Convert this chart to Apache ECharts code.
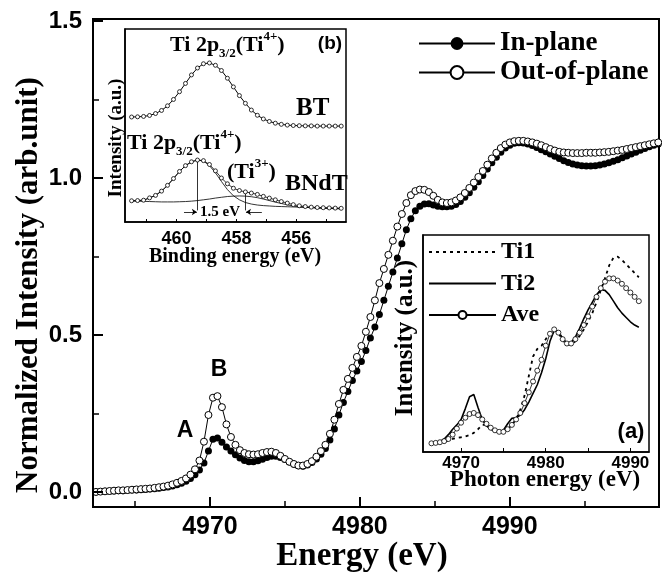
<!DOCTYPE html>
<html>
<head>
<meta charset="utf-8">
<script src="https://cdn.jsdelivr.net/npm/echarts@6/dist/echarts.min.js"></script>
<style>html,body{margin:0;padding:0;background:#fff}#chart{width:662px;height:577px}</style>
</head>
<body>
<div id="chart"></div>
<script>
var SERIF = '"Liberation Serif", "Times New Roman", serif';
var SANS = '"Liberation Sans", Arial, sans-serif';
var TICK_COLOR = '#000';

// main XANES spectra
var energy = [4962.4, 4962.7, 4963.0, 4963.3, 4963.6, 4963.9, 4964.2, 4964.5, 4964.8, 4965.1, 4965.4, 4965.7, 4966.0, 4966.3, 4966.6, 4966.9, 4967.2, 4967.5, 4967.8, 4968.1, 4968.4, 4968.7, 4969.0, 4969.3, 4969.6, 4969.9, 4970.2, 4970.5, 4970.8, 4971.1, 4971.4, 4971.7, 4972.0, 4972.3, 4972.6, 4972.9, 4973.2, 4973.5, 4973.8, 4974.1, 4974.4, 4974.7, 4975.0, 4975.3, 4975.6, 4975.9, 4976.2, 4976.5, 4976.8, 4977.1, 4977.4, 4977.7, 4978.0, 4978.3, 4978.6, 4978.9, 4979.2, 4979.5, 4979.8, 4980.1, 4980.4, 4980.7, 4981.0, 4981.3, 4981.6, 4981.9, 4982.2, 4982.5, 4982.8, 4983.1, 4983.4, 4983.7, 4984.0, 4984.3, 4984.6, 4984.9, 4985.2, 4985.5, 4985.8, 4986.1, 4986.4, 4986.7, 4987.0, 4987.3, 4987.6, 4987.9, 4988.2, 4988.5, 4988.8, 4989.1, 4989.4, 4989.7, 4990.0, 4990.3, 4990.6, 4990.9, 4991.2, 4991.5, 4991.8, 4992.1, 4992.4, 4992.7, 4993.0, 4993.3, 4993.6, 4993.9, 4994.2, 4994.5, 4994.8, 4995.1, 4995.4, 4995.7, 4996.0, 4996.3, 4996.6, 4996.9, 4997.2, 4997.5, 4997.8, 4998.1, 4998.4, 4998.7, 4999.0, 4999.3, 4999.6, 4999.9];
var inPlane = [0.000, 0.001, 0.002, 0.002, 0.003, 0.004, 0.004, 0.005, 0.006, 0.006, 0.007, 0.008, 0.009, 0.010, 0.012, 0.014, 0.016, 0.019, 0.023, 0.028, 0.034, 0.043, 0.055, 0.070, 0.092, 0.130, 0.168, 0.172, 0.158, 0.143, 0.130, 0.118, 0.108, 0.100, 0.096, 0.096, 0.099, 0.104, 0.110, 0.114, 0.114, 0.110, 0.103, 0.095, 0.088, 0.083, 0.082, 0.086, 0.094, 0.105, 0.120, 0.138, 0.165, 0.200, 0.245, 0.285, 0.320, 0.355, 0.385, 0.415, 0.450, 0.490, 0.525, 0.565, 0.610, 0.655, 0.700, 0.745, 0.790, 0.835, 0.870, 0.895, 0.910, 0.917, 0.918, 0.914, 0.910, 0.908, 0.908, 0.910, 0.915, 0.925, 0.938, 0.953, 0.970, 0.988, 1.008, 1.028, 1.048, 1.066, 1.082, 1.095, 1.104, 1.110, 1.112, 1.111, 1.108, 1.103, 1.097, 1.090, 1.083, 1.076, 1.069, 1.062, 1.055, 1.049, 1.044, 1.041, 1.039, 1.038, 1.038, 1.039, 1.041, 1.044, 1.048, 1.053, 1.058, 1.064, 1.070, 1.076, 1.082, 1.088, 1.094, 1.099, 1.104, 1.108];
var outPlane = [0.000, 0.001, 0.002, 0.003, 0.004, 0.005, 0.005, 0.006, 0.007, 0.008, 0.009, 0.010, 0.011, 0.013, 0.015, 0.017, 0.020, 0.024, 0.029, 0.035, 0.043, 0.055, 0.072, 0.100, 0.160, 0.245, 0.300, 0.305, 0.270, 0.215, 0.175, 0.150, 0.133, 0.124, 0.120, 0.119, 0.120, 0.124, 0.127, 0.128, 0.124, 0.115, 0.105, 0.096, 0.089, 0.084, 0.084, 0.089, 0.098, 0.112, 0.130, 0.150, 0.185, 0.230, 0.280, 0.325, 0.360, 0.395, 0.430, 0.465, 0.510, 0.557, 0.610, 0.665, 0.710, 0.755, 0.800, 0.845, 0.885, 0.920, 0.945, 0.958, 0.963, 0.962, 0.955, 0.943, 0.930, 0.922, 0.920, 0.922, 0.928, 0.938, 0.952, 0.968, 0.985, 1.003, 1.022, 1.042, 1.062, 1.080, 1.095, 1.106, 1.113, 1.117, 1.118, 1.118, 1.116, 1.113, 1.109, 1.104, 1.098, 1.092, 1.087, 1.083, 1.081, 1.080, 1.079, 1.079, 1.079, 1.080, 1.080, 1.080, 1.081, 1.082, 1.083, 1.085, 1.087, 1.089, 1.092, 1.095, 1.098, 1.101, 1.104, 1.107, 1.110, 1.113];
var mainXRange = [4962.2, 4999.95];
var mainYRange = [-0.048, 1.506];
var mainXMajor = [4970, 4980, 4990];
var mainXMinor = [4965, 4975, 4985, 4995];
var mainYMajor = [0, 0.5, 1.0, 1.5];
var mainYMinor = [0.25, 0.75, 1.25];

// inset (b): XPS Ti 2p3/2
var bindEnergy = [461.5, 461.3, 461.1, 460.9, 460.7, 460.5, 460.3, 460.1, 459.9, 459.7, 459.5, 459.3, 459.1, 458.9, 458.7, 458.5, 458.3, 458.1, 457.9, 457.7, 457.5, 457.3, 457.1, 456.9, 456.7, 456.5, 456.3, 456.1, 455.9, 455.7, 455.5, 455.3, 455.1, 454.9, 454.7, 454.5];
var btData = [0.544, 0.545, 0.547, 0.552, 0.562, 0.578, 0.602, 0.635, 0.675, 0.718, 0.762, 0.798, 0.820, 0.824, 0.812, 0.785, 0.745, 0.700, 0.655, 0.615, 0.580, 0.553, 0.534, 0.521, 0.512, 0.506, 0.502, 0.500, 0.499, 0.498, 0.498, 0.497, 0.497, 0.497, 0.497, 0.497];
var bndtData = [0.110, 0.111, 0.113, 0.125, 0.138, 0.160, 0.190, 0.225, 0.262, 0.292, 0.312, 0.321, 0.318, 0.298, 0.265, 0.228, 0.198, 0.175, 0.163, 0.156, 0.150, 0.143, 0.133, 0.124, 0.115, 0.106, 0.098, 0.090, 0.084, 0.080, 0.077, 0.075, 0.074, 0.073, 0.072, 0.071];
var bndtTi4 = [0.110, 0.111, 0.113, 0.125, 0.138, 0.160, 0.190, 0.225, 0.262, 0.292, 0.312, 0.321, 0.316, 0.292, 0.255, 0.210, 0.168, 0.136, 0.115, 0.101, 0.093, 0.088, 0.085, 0.083, 0.081, 0.080, 0.079, 0.078, 0.077, 0.076, 0.075, 0.074, 0.073, 0.072, 0.071, 0.070];
var bndtTi3 = [0.109, 0.108, 0.107, 0.106, 0.105, 0.104, 0.104, 0.104, 0.105, 0.106, 0.108, 0.111, 0.115, 0.119, 0.124, 0.128, 0.132, 0.134, 0.135, 0.134, 0.131, 0.126, 0.119, 0.111, 0.103, 0.096, 0.089, 0.083, 0.079, 0.076, 0.074, 0.072, 0.071, 0.070, 0.069, 0.068];
var bPeaks = [459.3, 457.7];
var bPeakTops = [0.321, 0.150];
var bXRange = [454.34, 461.72];
var bXLabels = [456, 458, 460];
var bXTicks = [455, 456, 457, 458, 459, 460, 461];

// inset (a): calculated spectra
var photonEnergy = [4966.5, 4967.0, 4967.5, 4968.0, 4968.5, 4969.0, 4969.5, 4970.0, 4970.5, 4971.0, 4971.5, 4972.0, 4972.5, 4973.0, 4973.5, 4974.0, 4974.5, 4975.0, 4975.5, 4976.0, 4976.5, 4977.0, 4977.5, 4978.0, 4978.5, 4979.0, 4979.5, 4980.0, 4980.5, 4981.0, 4981.5, 4982.0, 4982.5, 4983.0, 4983.5, 4984.0, 4984.5, 4985.0, 4985.5, 4986.0, 4986.5, 4987.0, 4987.5, 4988.0, 4988.5, 4989.0, 4989.5, 4990.0, 4990.5, 4991.0];
var ti1 = [0.040, 0.042, 0.044, 0.048, 0.053, 0.060, 0.065, 0.068, 0.072, 0.078, 0.088, 0.105, 0.125, 0.125, 0.115, 0.102, 0.095, 0.095, 0.105, 0.125, 0.150, 0.195, 0.260, 0.350, 0.440, 0.475, 0.490, 0.520, 0.550, 0.565, 0.550, 0.515, 0.495, 0.495, 0.510, 0.535, 0.565, 0.600, 0.640, 0.690, 0.745, 0.800, 0.860, 0.895, 0.900, 0.885, 0.865, 0.845, 0.825, 0.805];
var ti2 = [0.040, 0.042, 0.048, 0.060, 0.080, 0.105, 0.125, 0.150, 0.200, 0.255, 0.265, 0.205, 0.150, 0.120, 0.105, 0.096, 0.092, 0.100, 0.130, 0.155, 0.158, 0.170, 0.195, 0.230, 0.270, 0.310, 0.365, 0.430, 0.510, 0.560, 0.555, 0.525, 0.500, 0.505, 0.530, 0.570, 0.615, 0.655, 0.690, 0.725, 0.748, 0.745, 0.725, 0.695, 0.665, 0.640, 0.620, 0.600, 0.585, 0.575];
var ave = [0.040, 0.042, 0.045, 0.050, 0.060, 0.080, 0.108, 0.135, 0.158, 0.175, 0.180, 0.170, 0.150, 0.130, 0.112, 0.100, 0.093, 0.093, 0.105, 0.125, 0.150, 0.180, 0.225, 0.275, 0.325, 0.375, 0.425, 0.490, 0.545, 0.565, 0.550, 0.520, 0.500, 0.500, 0.520, 0.550, 0.585, 0.625, 0.670, 0.715, 0.755, 0.785, 0.800, 0.800, 0.790, 0.775, 0.755, 0.735, 0.715, 0.695];
var aXRange = [4965.5, 4992.2];
var aXLabels = [4970, 4980, 4990];
var aXTicks = [4970, 4975, 4980, 4985, 4990];

// pixel boxes of the three plot areas
var boxMain = {left: 93, top: 19, width: 566, height: 488};
var boxB = {left: 125, top: 29, width: 221, height: 193};
var boxA = {left: 423, top: 235, width: 226, height: 217};

function pairs(xs, ys) {
    return xs.map(function (x, i) { return [x, ys[i]]; });
}

// inward tick marks drawn as short markLine segments (length in px)
function xTicks(values, box, xr, yr, len, width) {
    var dy = len * (yr[1] - yr[0]) / box.height;
    return values.map(function (v) {
        return [{coord: [v, yr[0]], lineStyle: {width: width}}, {coord: [v, yr[0] + dy]}];
    });
}
function yTicks(values, box, xr, yr, len, width) {
    var dx = len * (xr[1] - xr[0]) / box.width;
    return values.map(function (v) {
        return [{coord: [xr[0], v], lineStyle: {width: width}}, {coord: [xr[0] + dx, v]}];
    });
}
function tickLines(data) {
    return {silent: true, symbol: 'none', precision: 6, lineStyle: {color: TICK_COLOR, type: 'solid'}, data: data};
}

function axis(grid, range, labels, size, margin, extra) {
    var ax = {
        type: 'value', gridIndex: grid, min: range[0], max: range[1], z: 10,
        axisLine: {show: true, onZero: false, lineStyle: {color: '#000', width: grid === 0 ? 2 : 1.5}},
        axisTick: {show: false},
        axisLabel: labels ? {customValues: labels, color: '#000', fontFamily: SANS, fontWeight: 'bold', fontSize: size, margin: margin,
            formatter: function (v) { return grid === 0 && range[1] < 10 ? v.toFixed(1) : String(v); }} : {show: false},
        splitLine: {show: false}
    };
    for (var k in (extra || {})) ax[k] = extra[k];
    return ax;
}

function txt(x, y, text, font, opts) {
    var el = {type: 'text', x: x, y: y, z: 100, style: {text: text, font: font, fill: '#000', align: 'center', verticalAlign: 'middle'}};
    for (var k in (opts || {})) {
        if (k === 'rotation') el.rotation = opts[k]; else el.style[k] = opts[k];
    }
    return el;
}

var richTi = {
    s: {fontFamily: SERIF, fontWeight: 'bold', fontSize: 13, verticalAlign: 'bottom', lineHeight: 30},
    p: {fontFamily: SERIF, fontWeight: 'bold', fontSize: 13, verticalAlign: 'top', lineHeight: 30}
};

var chart = echarts.init(document.getElementById('chart'), null, {renderer: 'canvas'});

var mainTicks = xTicks(mainXMajor, boxMain, mainXRange, mainYRange, 10, 2)
    .concat(xTicks(mainXMinor, boxMain, mainXRange, mainYRange, 6, 1.5))
    .concat(yTicks(mainYMajor, boxMain, mainXRange, mainYRange, 10, 2))
    .concat(yTicks(mainYMinor, boxMain, mainXRange, mainYRange, 6, 1.5));
var bTicks = xTicks(bXTicks, boxB, bXRange, [0, 1], 3, 1);
var aTicks = xTicks(aXTicks, boxA, aXRange, [0, 1], 4, 1);

var option = {
    animation: false,
    backgroundColor: '#fff',
    grid: [
        {left: boxMain.left, top: boxMain.top, width: boxMain.width, height: boxMain.height, outerBoundsMode: 'none', containLabel: false,
            show: true, borderColor: '#000', borderWidth: 2, backgroundColor: 'transparent'},
        {left: boxB.left, top: boxB.top, width: boxB.width, height: boxB.height, outerBoundsMode: 'none', containLabel: false,
            show: true, borderColor: '#000', borderWidth: 1.5, backgroundColor: '#fff', z: 5},
        {left: boxA.left, top: boxA.top, width: boxA.width, height: boxA.height, outerBoundsMode: 'none', containLabel: false,
            show: true, borderColor: '#000', borderWidth: 1.5, backgroundColor: '#fff', z: 5}
    ],
    xAxis: [
        axis(0, mainXRange, mainXMajor, 25, 8),
        axis(1, bXRange, bXLabels, 18, 8, {inverse: true}),
        axis(2, aXRange, aXLabels, 17, 3)
    ],
    yAxis: [
        axis(0, mainYRange, mainYMajor, 24, 11),
        axis(1, [0, 1], null),
        axis(2, [0, 1], null)
    ],
    legend: [
        {
            data: ['In-plane', 'Out-of-plane'], left: 418, top: 29, orient: 'vertical', padding: 0, z: 20,
            itemWidth: 76, itemHeight: 16, itemGap: 0, selectedMode: false,
            textStyle: {fontFamily: SERIF, fontWeight: 'bold', fontSize: 27, color: '#000', lineHeight: 29}
        },
        {
            data: ['Ti1', 'Ti2', 'Ave'], left: 428, top: 239, orient: 'vertical', padding: 0, z: 20,
            itemWidth: 67, itemHeight: 10, itemGap: 5.5, selectedMode: false,
            textStyle: {fontFamily: SERIF, fontWeight: 'bold', fontSize: 24, color: '#000', lineHeight: 26}
        }
    ],
    series: [
        {
            name: 'In-plane', type: 'line', xAxisIndex: 0, yAxisIndex: 0, data: pairs(energy, inPlane),
            symbol: 'circle', symbolSize: 7, showAllSymbol: true,
            itemStyle: {color: '#000'}, lineStyle: {color: '#000', width: 1},
            markLine: tickLines(mainTicks)
        },
        {
            name: 'Out-of-plane', type: 'line', xAxisIndex: 0, yAxisIndex: 0, data: pairs(energy, outPlane),
            symbol: 'circle', symbolSize: 7, showAllSymbol: true,
            itemStyle: {color: '#fff', borderColor: '#000', borderWidth: 1}, lineStyle: {color: '#000', width: 1}
        },
        {
            name: 'BT', type: 'line', xAxisIndex: 1, yAxisIndex: 1, data: pairs(bindEnergy, btData), z: 6,
            symbol: 'circle', symbolSize: 4, showAllSymbol: true,
            itemStyle: {color: '#fff', borderColor: '#000', borderWidth: 0.8}, lineStyle: {color: '#000', width: 1},
            markLine: tickLines(bTicks)
        },
        {
            name: 'Ti4+ component', type: 'line', xAxisIndex: 1, yAxisIndex: 1, data: pairs(bindEnergy, bndtTi4), z: 6,
            symbol: 'none', lineStyle: {color: '#000', width: 0.8}, itemStyle: {color: '#000'},
            markLine: {
                silent: true, symbol: 'none', precision: 6, label: {show: false}, lineStyle: {color: '#000', width: 0.8, type: 'solid'},
                data: bPeaks.map(function (e, i) { return [{coord: [e, 0.06]}, {coord: [e, bPeakTops[i]]}]; })
            }
        },
        {
            name: 'Ti3+ component', type: 'line', xAxisIndex: 1, yAxisIndex: 1, data: pairs(bindEnergy, bndtTi3), z: 6,
            symbol: 'none', lineStyle: {color: '#000', width: 0.8}, itemStyle: {color: '#000'},
            markLine: {
                silent: true, symbol: ['none', 'arrow'], symbolSize: 5, precision: 6, label: {show: false}, lineStyle: {color: '#000', width: 0.8, type: 'solid'},
                data: [
                    [{coord: [bPeaks[0] + 0.45, 0.052]}, {coord: [bPeaks[0] + 0.02, 0.052]}],
                    [{coord: [bPeaks[1] - 0.55, 0.052]}, {coord: [bPeaks[1] - 0.02, 0.052]}]
                ]
            }
        },
        {
            name: 'BNdT', type: 'line', xAxisIndex: 1, yAxisIndex: 1, data: pairs(bindEnergy, bndtData), z: 7,
            symbol: 'circle', symbolSize: 4, showAllSymbol: true,
            itemStyle: {color: '#fff', borderColor: '#000', borderWidth: 0.8}, lineStyle: {color: '#000', width: 0.8}
        },
        {
            name: 'Ti1', type: 'line', xAxisIndex: 2, yAxisIndex: 2, data: pairs(photonEnergy, ti1), z: 6,
            symbol: 'none', itemStyle: {color: 'rgba(0,0,0,0)'}, lineStyle: {color: '#000', width: 1.8, type: [3, 4]},
            markLine: tickLines(aTicks)
        },
        {
            name: 'Ti2', type: 'line', xAxisIndex: 2, yAxisIndex: 2, data: pairs(photonEnergy, ti2), z: 6,
            symbol: 'none', itemStyle: {color: 'rgba(0,0,0,0)'}, lineStyle: {color: '#000', width: 1.6}
        },
        {
            name: 'Ave', type: 'line', xAxisIndex: 2, yAxisIndex: 2, data: pairs(photonEnergy, ave), z: 7,
            symbol: 'circle', symbolSize: 5, showAllSymbol: true,
            itemStyle: {color: '#fff', borderColor: '#000', borderWidth: 0.8}, lineStyle: {color: '#000', width: 0.8}
        }
    ],
    graphic: [
        txt(29, 285, 'Normalized Intensity (arb.unit)', 'bold 31px ' + SERIF, {rotation: Math.PI / 2}),
        txt(362, 556, 'Energy (eV)', 'bold 33px ' + SERIF),
        txt(185, 431, 'A', 'bold 23px ' + SANS),
        txt(219, 370, 'B', 'bold 23px ' + SANS),
        txt(330, 44, '(b)', 'bold 19px ' + SANS),
        txt(296, 109, 'BT', 'bold 25px ' + SERIF, {align: 'left'}),
        txt(285, 184, 'BNdT', 'bold 24px ' + SERIF, {align: 'left'}),
        txt(170, 45, 'Ti 2p{s|3/2}(Ti{p|4+})', 'bold 22px ' + SERIF, {align: 'left', lineHeight: 30, rich: richTi}),
        txt(127, 143, 'Ti 2p{s|3/2}(Ti{p|4+})', 'bold 22px ' + SERIF, {align: 'left', lineHeight: 30, rich: richTi}),
        txt(227, 172, '(Ti{p|3+})', 'bold 22px ' + SERIF, {align: 'left', lineHeight: 30, rich: richTi}),
        txt(220, 212, '1.5 eV', 'bold 15px ' + SERIF),
        txt(116, 138, 'Intensity (a.u.)', 'bold 19px ' + SERIF, {rotation: Math.PI / 2}),
        txt(235, 257, 'Binding energy (eV)', 'bold 20px ' + SERIF),
        txt(631, 432, '(a)', 'bold 22px ' + SANS),
        txt(406, 338, 'Intensity (a.u.)', 'bold 25px ' + SERIF, {rotation: Math.PI / 2}),
        txt(545, 480, 'Photon energy (eV)', 'bold 23px ' + SERIF)
    ]
};

chart.setOption(option);
</script>
</body>
</html>
